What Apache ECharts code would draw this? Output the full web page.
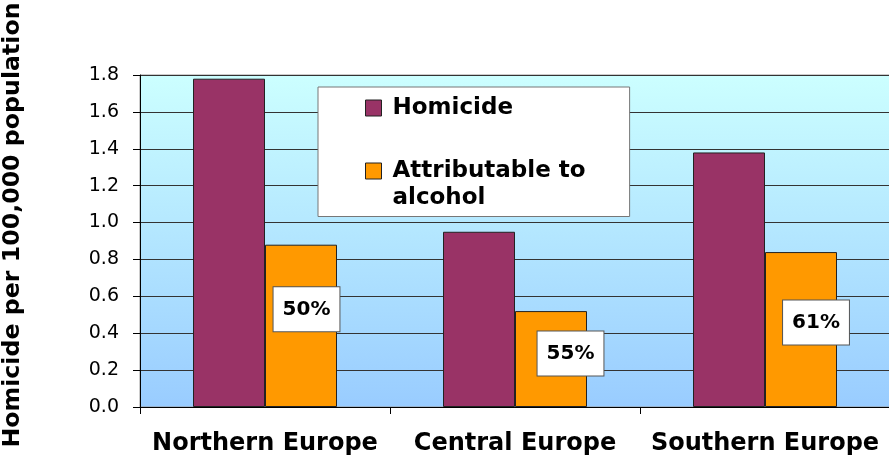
<!DOCTYPE html>
<html>
<head>
<meta charset="utf-8">
<script src="https://cdn.jsdelivr.net/npm/echarts@6/dist/echarts.min.js"></script>
<style>
html,body{margin:0;padding:0;background:#fff;}
#chart{width:889px;height:464px;}
</style>
</head>
<body>
<div id="chart"></div>
<script>
var categories = ['Northern Europe', 'Central Europe', 'Southern Europe'];
var homicide = [1.78, 0.95, 1.38];
var alcohol = [0.88, 0.52, 0.84];
var shareLabels = ['50%', '55%', '61%'];
var seriesNames = ['Homicide', 'Attributable to\nalcohol'];
var yAxisTitle = 'Homicide per 100,000 population';

var labelOffsets = [[5.5, -16.5], [19.5, -5.5], [15, -7]];
var FONT = 'DejaVu Sans';

var alcoholData = alcohol.map(function (v, i) {
  return {
    value: v,
    label: { formatter: shareLabels[i], offset: labelOffsets[i] }
  };
});

var chart = echarts.init(document.getElementById('chart'), null, { renderer: 'canvas' });
chart.setOption({
  backgroundColor: '#ffffff',
  animation: false,
  grid: {
    left: 140, right: -1, top: 75, bottom: 57,
    outerBoundsMode: 'none',
    containLabel: false,
    show: true,
    borderColor: '#999999',
    borderWidth: 1,
    backgroundColor: {
      type: 'linear', x: 0, y: 0, x2: 0, y2: 1,
      colorStops: [{ offset: 0, color: '#ccffff' }, { offset: 1, color: '#99ccff' }]
    }
  },
  legend: {
    orient: 'vertical',
    left: 318, top: 87,
    padding: [7.5, 44, 5, 47],
    itemGap: 9,
    itemWidth: 16, itemHeight: 16,
    backgroundColor: '#ffffff',
    borderColor: '#777777',
    borderWidth: 1,
    selectedMode: false,
    icon: 'rect',
    itemStyle: { borderColor: '#222222', borderWidth: 1 },
    textStyle: { fontFamily: FONT, fontWeight: 'bold', fontSize: 23, lineHeight: 27, color: '#000', padding: [0, 0, 0, 6] },
    formatter: function (name) {
      return name.indexOf('\n') >= 0 ? '\n' + name : name;
    },
    data: seriesNames
  },
  xAxis: {
    type: 'category',
    data: categories,
    boundaryGap: true,
    axisLine: { show: true, lineStyle: { color: '#000', width: 1 } },
    axisTick: { show: true, interval: 0, length: 7, lineStyle: { color: '#000' } },
    axisLabel: { interval: 0, margin: 25, fontFamily: FONT, fontWeight: 'bold', fontSize: 24, color: '#000' },
    splitLine: { show: false }
  },
  yAxis: {
    type: 'value',
    min: 0, max: 1.8, interval: 0.2,
    name: yAxisTitle,
    nameLocation: 'middle',
    nameRotate: 90,
    nameGap: 115,
    nameMoveOverlap: false,
    nameTextStyle: { fontFamily: FONT, fontWeight: 'bold', fontSize: 23.7, color: '#000', padding: [0, 0, 0, 32] },
    axisLine: { show: true, lineStyle: { color: '#000', width: 1 } },
    axisTick: { show: true, length: 7, lineStyle: { color: '#000' } },
    axisLabel: {
      margin: 21, fontFamily: FONT, fontSize: 19, color: '#000',
      formatter: function (v) { return v.toFixed(1); }
    },
    splitLine: { show: true, lineStyle: { color: '#333333', width: 1 } }
  },
  series: [
    {
      name: seriesNames[0],
      type: 'bar',
      data: homicide,
      barGap: '0%',
      barCategoryGap: '42.4%',
      itemStyle: { color: '#993366', borderColor: '#222222', borderWidth: 1 }
    },
    {
      name: seriesNames[1],
      type: 'bar',
      data: alcoholData,
      barGap: '0%',
      barCategoryGap: '42.4%',
      itemStyle: { color: '#ff9900', borderColor: '#222222', borderWidth: 1 },
      label: {
        show: true,
        position: 'inside',
        fontFamily: FONT, fontWeight: 'bold', fontSize: 20, color: '#000',
        backgroundColor: '#ffffff',
        borderColor: '#555555', borderWidth: 1,
        padding: [12, 9, 12, 9]
      }
    }
  ]
});
</script>
</body>
</html>
